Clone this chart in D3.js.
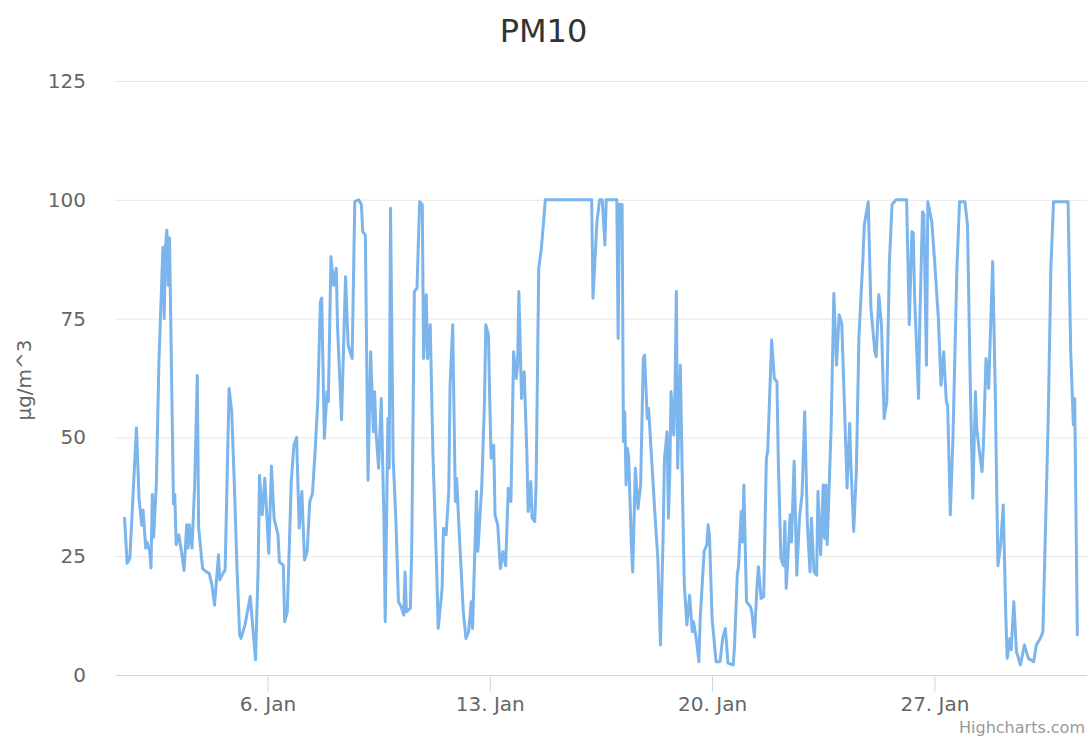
<!DOCTYPE html>
<html>
<head>
<meta charset="utf-8">
<title>PM10</title>
<script src="https://cdn.jsdelivr.net/npm/d3@7"></script>
<style>
  body { margin: 0; background: #fff; }
  text { font-family: "DejaVu Sans", sans-serif; }
</style>
</head>
<body>
<svg id="chart" width="1087" height="737"></svg>
<script>
// hours are counted from this moment
const startDate = new Date(2019, 0, 1);

// [hour, µg/m^3]
const readings = [
  [12,33],[14,23.5],[16,24.5],[21,52],[23,37],[25,31.5],[26,34.7],[28,26.7],[29,28],[31,26],
  [32,22.5],[33,38],[34,29],[36,40],[38,66],[41,90],[42,75],[43,90.5],[44,93.6],[45,82],
  [46,92],[49,36],[50,38],[51,27.4],[53,29.5],[55,26],[57,22],[59,31.6],[60,26.7],[61,31.6],
  [63,26.7],[65,40],[67,63],[68,31],[71,22.4],[74,21.7],[76,21.4],[78,19],[80,14.7],[83,25.3],
  [84,20],[87,21.7],[88,22],[91,60.3],[93,55.4],[95,40],[97,22.4],[99,8.4],
  [100,7.7],[103,10.5],[107,16.5],[111,3.2],[113,23],[114,42],[116,33.7],[118,41.4],[121,25.6],
  [123,44],[125,33],[128,29.5],[129,23.8],[132,23.1],[133,11.2],[135,13.3],[138,40.7],[140,48.4],
  [142,50],[144,30.9],[146,38.6],[148,24.2],[150,26],[152,36.5],[154,38.2],[156,47],[158,57.5],
  [160,78.6],[161,79.3],[163,49.8],[165,59.6],[166,57.5],[168,88],[170,82],[172,85.6],[173,73],
  [176,53.7],[179,83.8],[181,69.4],[184,66.6],[186,99.6],[189,100],[191,99],[192,93.3],
  [194,92.6],[196,41],[198,68],[200,51.2],[201,59.6],[202,51.2],[204,43.5],[206,58.2],[208,33],
  [209,11.2],[211,54],[212,43.5],[213,98.2],[215,45.6],[217,33],[219,15.4],[221,14.4],[223,12.6],
  [224,21.7],[225,13.3],[228,14],[229,26],[231,80.7],[233,81.4],[235,99.6],[237,99],[238,66.6],
  [240,80],[241,66.6],[243,73.7],[245,47],[248,21],[249,9.8],[252,18.2],[253,30.9],[255,29.5],
  [257,38.6],[258,61],[260,73.7],[262,36.5],[263,41.4],[265,29.5],[268,13.3],[270,7.7],[272,9.1],
  [274,15.4],[275,9.8],[278,38.6],[279,26],[282,40],[284,57.5],[285,73.7],[287,71.5],
  [288,57.5],[289,45.6],[291,48.4],[292,33.7],[294,31.6],[296,22.4],[298,26],[300,23],[302,39.3],
  [304,36.5],[306,68],[308,62.4],[309,65],[310,80.7],[312,58.2],[314,63.8],[316,47],[317,34.4],
  [319,40.7],[320,33],[322,32.3],[323,40],[325,85.6],[327,89.8],[330,100],[365,100],[366,79.3],
  [369,95.4],[371,100],[373,100],[375,90.5],[376,100],[384,100],[385,70.8],[386,99],[388,99],
  [389,49.1],[390,55.4],[391,40],[392,47.7],[393,45.6],[395,27.4],[396,21.7],[398,43.5],[400,35],
  [402,40],[404,66.6],[405,67.3],[407,54],[408,56.1],[410,47],[413,33],[415,24.5],[417,6.3],
  [419,29.5],[420,45.6],[422,51.2],[423,33],[424,42],[425,59.6],[427,50.5],[428,60.3],[429,80.7],
  [430,43.5],[432,65.2],[434,33],[435,19],[437,10.5],[439,16.8],[441,9.1],[442,11.2],[444,7.7],
  [446,2.8],[447,11.9],[450,26],[452,27.4],[453,31.6],[454,29.5],[456,11.9],[459,2.8],[462,2.8],
  [464,7.7],[466,9.8],[468,2.5],[472,2.1],[473,6.3],[475,21],[476,23],[478,34.4],[479,28],
  [480,40],[482,15.4],[485,14.4],[486,13.3],[488,8],[490,19],[491,22.8],[493,16.1],[495,16.5],
  [497,45.6],[498,47],[501,70.5],[503,62.4],[505,61.7],[506,45.6],[508,24.5],[510,23],[511,32.3],
  [512,18.2],[515,33.7],[516,28],[518,45],[520,21],[522,33],[524,38],[526,55.4],[528,31.6],
  [530,21.7],[531,33],[533,21.7],[535,21],[536,38.6],[538,25.3],[540,40],[541,28.8],[542,40],
  [543,27.4],[546,52.6],[548,80.3],[550,65.2],[552,75.8],[554,74],[556,56.8],[558,39.3],[560,53],
  [561,43.5],[563,30.2],[565,42.8],[567,71.5],[570,87.7],[571,94.7],[574,99.6],[576,77.2],[579,68],
  [580,67],[582,80],[584,73.7],[586,54],[588,57.5],[590,87],[592,99],[595,100],[603,100],
  [605,73.7],[607,93.3],[608,93],[609,80],[612,58.2],[613,75],[615,97.5],[616,97],[618,65.2],
  [619,99.6],[622,95.4],[624,87.7],[627,75],[629,61],[631,68],[633,57.5],[634,56.8],[636,33.7],
  [638,49.8],[641,85.6],[643,99.6],[647,99.6],[649,94.7],[651,62.4],[653,37.2],[655,59.6],[656,51.9],
  [658,47],[660,42.8],[661,48.4],[663,66.6],[665,60.3],[668,87],[670,59.6],[671,40],[672,23],
  [674,27.4],[676,35.8],[678,11.9],[679,3.5],[681,7.7],[682,5.3],[684,15.4],[686,4.9],[689,2.1],
  [692,6.3],[695,3.5],[699,2.8],[701,6.3],[704,7.7],[706,9.1],[710,54],[712,85.6],[714,99.6],
  [725,99.6],[727,68],[729,52.6],[730,58.2],[732,8.4]
];

const yTicks = [0, 25, 50, 75, 100, 125];
const xTickDays = [6, 13, 20, 27];
const xDomainHours = [4.8, 739.3];
const chartTitle = "PM10";
const yTitle = "µg/m^3";
const credit = "Highcharts.com";

const svg = d3.select("#chart");
const plot = { left: 115, right: 1087, top: 81, bottom: 675 };

const hourToDate = h => new Date(startDate.getTime() + h * 3600e3);

const x = d3.scaleTime()
  .domain(xDomainHours.map(hourToDate))
  .range([plot.left, plot.right]);

const y = d3.scaleLinear()
  .domain([0, 125])
  .range([plot.bottom, plot.top]);

// y axis with gridlines
const yAxis = svg.append("g")
  .attr("transform", `translate(${plot.left},0)`)
  .call(d3.axisLeft(y).tickValues(yTicks).tickSize(-(plot.right - plot.left)).tickPadding(29));
yAxis.select(".domain").remove();
yAxis.selectAll(".tick line").attr("stroke", "#e6e6e6");
yAxis.selectAll(".tick text")
  .attr("fill", "#666").style("font-size", "20px")
  .style("font-family", '"DejaVu Sans", sans-serif');

// x axis
const xAxis = svg.append("g")
  .attr("transform", `translate(0,${plot.bottom})`)
  .call(d3.axisBottom(x)
    .tickValues(xTickDays.map(d => new Date(startDate.getFullYear(), 0, d)))
    .tickFormat(d => d.getDate() + ". Jan")
    .tickSize(17).tickSizeOuter(0).tickPadding(5));
xAxis.select(".domain").attr("stroke", "#ccd6eb");
xAxis.selectAll(".tick line").attr("stroke", "#ccd6eb");
xAxis.selectAll(".tick text")
  .attr("fill", "#666").style("font-size", "20px")
  .style("font-family", '"DejaVu Sans", sans-serif');

// the series
const line = d3.line()
  .x(d => x(hourToDate(d[0])))
  .y(d => y(d[1]));

svg.append("path")
  .datum(readings)
  .attr("d", line)
  .attr("fill", "none")
  .attr("stroke", "#7cb5ec")
  .attr("stroke-width", 3)
  .attr("stroke-linejoin", "round")
  .attr("stroke-linecap", "round");

// titles
svg.append("text")
  .attr("x", 543.5).attr("y", 42)
  .attr("text-anchor", "middle")
  .attr("fill", "#333")
  .style("font-size", "32px")
  .text(chartTitle);

svg.append("text")
  .attr("transform", "translate(24,380) rotate(-90)")
  .attr("text-anchor", "middle")
  .attr("dominant-baseline", "central")
  .attr("fill", "#666")
  .style("font-size", "20px")
  .text(yTitle);

svg.append("text")
  .attr("x", 1085).attr("y", 733)
  .attr("text-anchor", "end")
  .attr("fill", "#999")
  .style("font-size", "16px")
  .text(credit);
</script>
</body>
</html>
